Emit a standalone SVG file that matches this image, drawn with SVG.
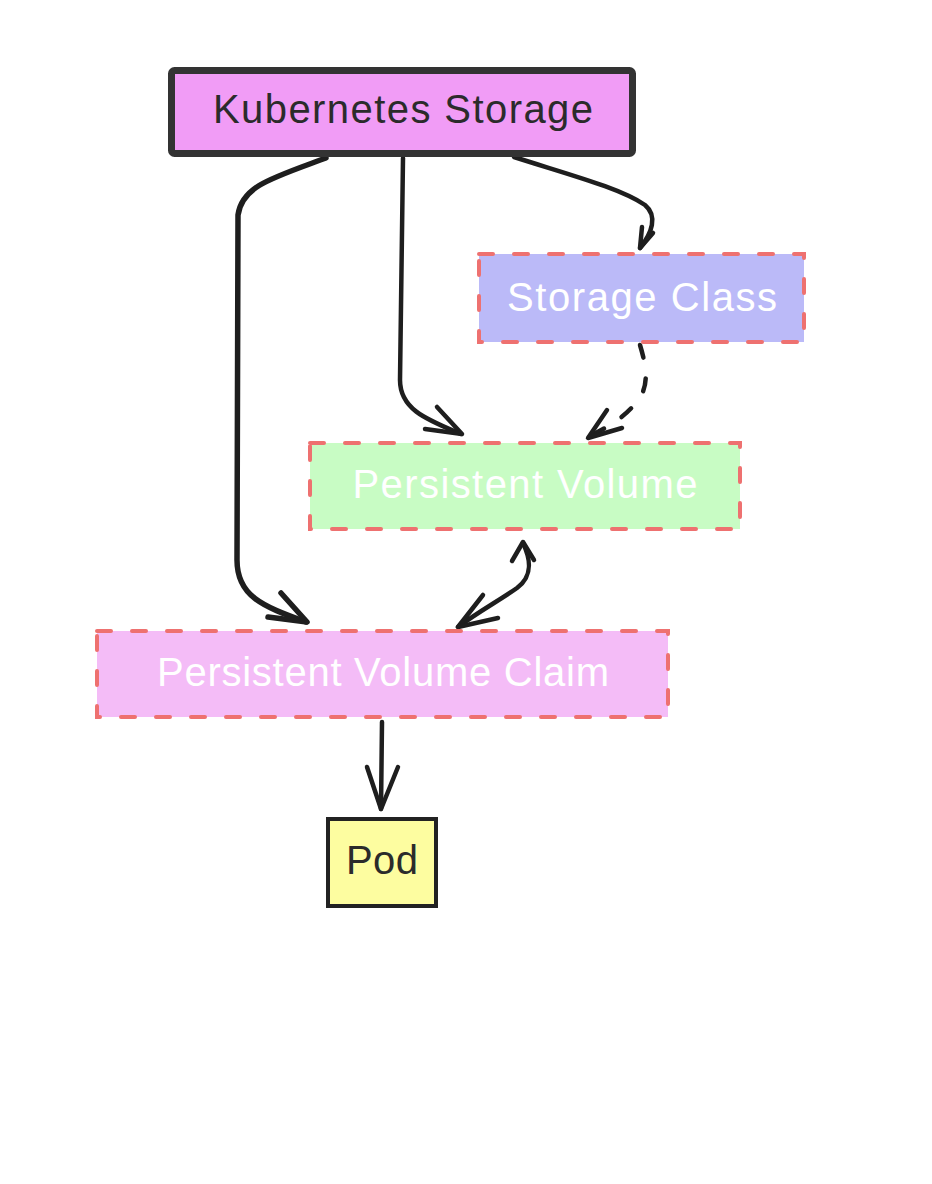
<svg xmlns="http://www.w3.org/2000/svg" width="932" height="1184" viewBox="0 0 932 1184">
  <style>
    .lbl { font-family: "Liberation Sans", Arial, sans-serif; font-size: 40px; text-anchor: middle; }
    .dark { fill: #2b2b2b; }
    .light { fill: #ffffff; }
    .dashbox { stroke: #ee7170; stroke-width: 4; stroke-dasharray: 14 21; stroke-linecap: round; }
    .edge { fill: none; stroke: #1e1e1e; stroke-width: 4.5; stroke-linecap: round; stroke-linejoin: round; }
    .thick { stroke-width: 5.5; }
    .dashed { stroke-dasharray: 13 21; }
  </style>
  <rect width="932" height="1184" fill="#ffffff"/>

  <g id="connectors">
    <!-- Kubernetes Storage -> PVC -->
    <path class="edge thick" d="M 326,158 C 272,178 242,186 238,215 L 237,560 C 237,596 262,606 306,622"/>
    <path class="edge thick" d="M 281,593 L 307,622 L 268,617"/>
    <!-- Kubernetes Storage -> PV -->
    <path class="edge" d="M 403,158 L 400,380 C 400,410 428,420 461,434"/>
    <path class="edge" d="M 437,407 L 462,434 L 425,429"/>
    <!-- Kubernetes Storage -> Storage Class -->
    <path class="edge" d="M 514,157 C 570,175 620,188 645,205 C 658,216 652,233 640,248"/>
    <path class="edge" d="M 642,227 L 640,248 L 653,233"/>
    <!-- Storage Class -> PV (dashed) -->
    <path class="edge dashed" d="M 640,345 C 646,365 650,385 638,400 C 625,418 606,428 588,437"/>
    <path class="edge" d="M 607,410 L 588,438 L 622,428"/>
    <!-- PV <-> PVC -->
    <path class="edge" d="M 523,543 C 531,560 533,576 517,588 C 500,600 478,612 458,627"/>
    <path class="edge" d="M 512,561 L 523,542 L 534,560"/>
    <path class="edge" d="M 483,595 L 458,627 L 498,618"/>
    <!-- PVC -> Pod -->
    <path class="edge" d="M 382,722 L 381,809"/>
    <path class="edge" d="M 367,767 L 381,809 L 398,767"/>
  </g>

  <g id="node-kubernetes-storage">
    <rect x="171.5" y="70.5" width="461" height="83" rx="3" fill="#f19cf6" stroke="#333333" stroke-width="7"/>
    <text class="lbl dark" x="403" y="123" textLength="380" lengthAdjust="spacing">Kubernetes Storage</text>
  </g>

  <g id="node-storage-class">
    <rect class="dashbox" x="479" y="254" width="325" height="88" fill="#bbbaf8"/>
    <text class="lbl light" x="642" y="311" textLength="270" lengthAdjust="spacing">Storage Class</text>
  </g>

  <g id="node-persistent-volume">
    <rect class="dashbox" x="310" y="443" width="430" height="86" fill="#c8fcc4"/>
    <text class="lbl light" x="525" y="498" textLength="345" lengthAdjust="spacing">Persistent Volume</text>
  </g>

  <g id="node-persistent-volume-claim">
    <rect class="dashbox" x="97" y="631" width="571" height="86" fill="#f4bcf7"/>
    <text class="lbl light" x="383" y="686" textLength="452" lengthAdjust="spacing">Persistent Volume Claim</text>
  </g>

  <g id="node-pod">
    <rect x="328" y="819" width="108" height="87" fill="#fdfda0" stroke="#222222" stroke-width="4"/>
    <text class="lbl dark" x="382" y="874" textLength="72" lengthAdjust="spacing">Pod</text>
  </g>
</svg>
